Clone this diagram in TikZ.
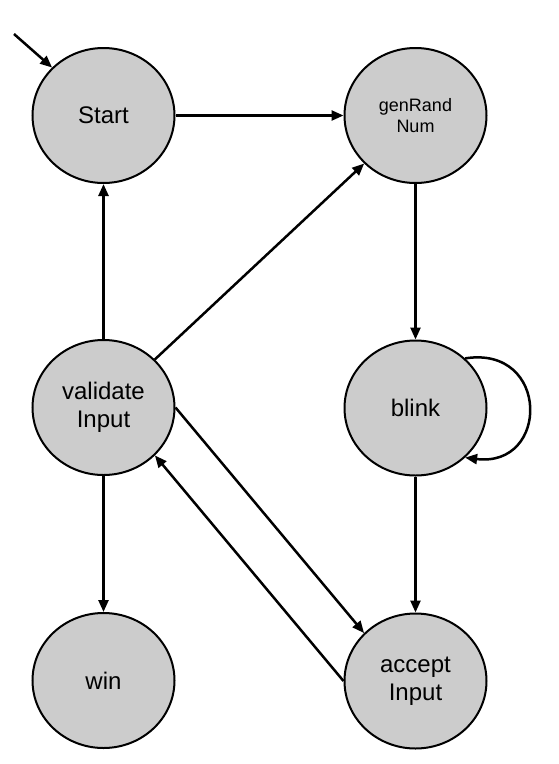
\documentclass[tikz,border=0pt]{standalone}
\usepackage{fontspec}
\setmainfont{Liberation Sans}
\usetikzlibrary{shapes.geometric,arrows.meta}
\definecolor{stategray}{RGB}{204,204,204}
\tikzset{
  state/.style={ellipse,draw=black,line width=2pt,fill=stategray,
    minimum width=142pt,minimum height=135pt,inner sep=0pt,align=center,
    font=\fontsize{24}{27.5}\selectfont},
  smalltext/.style={font=\fontsize{18}{20.5}\selectfont},
  trans/.style={line width=2.5pt,-{Triangle[length=12pt,width=10pt]}}
}
\begin{document}
\begin{tikzpicture}[x=1pt,y=-1pt]
\useasboundingbox (0,0) rectangle (558,764);
\node[state] (start) at (103.5,115.5) {Start};
\node[state,smalltext] (gen) at (415.5,115.5) {genRand\\Num};
\node[state] (validate) at (103.5,407.5) {validate\\Input};
\node[state] (blink) at (415.5,408) {blink};
\node[state] (win) at (103.5,680.5) {win};
\node[state] (accept) at (415.5,681) {accept\\Input};
\coordinate (init) at (14,34);
\draw[trans] (init) -- (start.137);
\draw[trans] (start.east) -- (gen.west);
\draw[trans] (validate.north) -- (start.south);
\draw[trans] (validate) -- (gen);
\draw[trans] (gen.south) -- (blink.north);
\draw[trans] (blink.south) -- (accept.north);
\draw[trans] (validate.south) -- (win.north);
\draw[trans] (validate.east) -- (accept.137);
\draw[trans] (accept.west) -- (validate.-43);
\draw[trans] (blink.45) .. controls (550,345) and (550,468) .. (blink.-45);
\end{tikzpicture}
\end{document}
